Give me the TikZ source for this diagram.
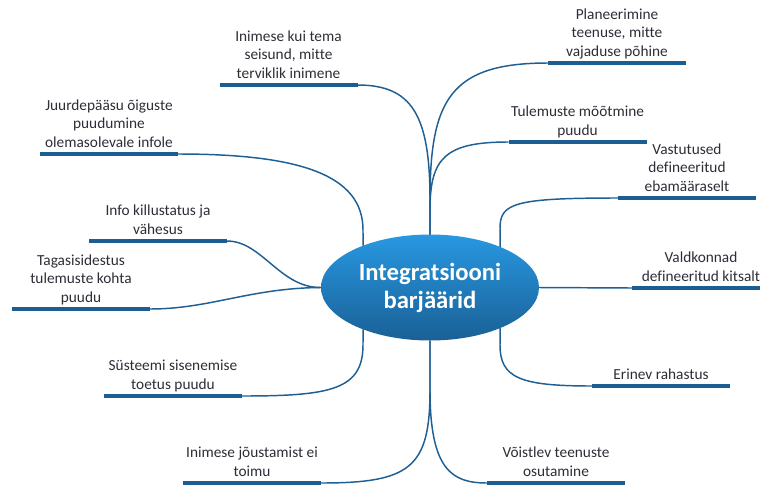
\documentclass[tikz,border=0pt]{standalone}
\usepackage{fontspec}
\setmainfont{Carlito}[Ligatures=NoCommon]
\usetikzlibrary{shapes.geometric}
\definecolor{linkc}{RGB}{31,95,148}
\definecolor{barc}{RGB}{28,94,145}
\definecolor{txtc}{RGB}{45,45,55}
\definecolor{ellTop}{RGB}{40,152,225}
\definecolor{ellBot}{RGB}{26,96,150}
\begin{document}
\begin{tikzpicture}[x=0.75pt,y=-0.75pt,
  bar/.style={fill=barc, draw=none, minimum width=103.5pt, minimum height=3pt, inner sep=0pt, outer sep=0pt},
  lbl/.style={align=center, font=\fontsize{11.5}{13.9}\selectfont, text=txtc, inner sep=0pt, anchor=south, text depth=0pt},
  link/.style={draw=linkc, line width=1.1pt},
  hub/.style={ellipse, minimum width=163.5pt, minimum height=79.5pt, inner sep=0pt, outer sep=0pt,
    top color=ellTop, bottom color=ellBot, draw=none, text=white, align=center,
    font=\bfseries\fontsize{18.5}{21}\selectfont}]
\useasboundingbox (0,0) rectangle (760,486);

% bars
\node[bar] (b1) at (288.5,85) {};
\node[bar] (b2) at (109,154) {};
\node[bar] (b3) at (158,241) {};
\node[bar] (b4) at (81,309) {};
\node[bar] (b5) at (173,396) {};
\node[bar] (b6) at (252,483) {};
\node[bar] (b7) at (617,63) {};
\node[bar] (b8) at (577.5,142) {};
\node[bar] (b9) at (687,198) {};
\node[bar] (b10) at (701,288) {};
\node[bar] (b11) at (661,386) {};
\node[bar] (b12) at (556,483) {};

% labels
\node[lbl] (t1) at ([yshift=3.4pt]b1.north) {Inimese kui tema\\seisund, mitte\\terviklik inimene};
\node[lbl] (t2) at ([yshift=3.4pt]b2.north) {Juurdepääsu õiguste\\puudumine\\olemasolevale infole};
\node[lbl] (t3) at ([yshift=3.4pt]b3.north) {Info killustatus ja\\vähesus};
\node[lbl] (t4) at ([yshift=3.4pt]b4.north) {Tagasisidestus\\tulemuste kohta\\puudu};
\node[lbl] (t5) at ([yshift=3.4pt]b5.north) {Süsteemi sisenemise\\toetus puudu};
\node[lbl] (t6) at ([yshift=3.4pt]b6.north) {Inimese jõustamist ei\\toimu};
\node[lbl] (t7) at ([yshift=3.4pt]b7.north) {Planeerimine\\teenuse, mitte\\vajaduse põhine};
\node[lbl] (t8) at ([yshift=3.4pt]b8.north) {Tulemuste mõõtmine\\puudu};
\node[lbl] (t9) at ([yshift=3.4pt]b9.north) {Vastutused\\defineeritud\\ebamääraselt};
\node[lbl] (t10) at ([yshift=3.4pt]b10.north) {Valdkonnad\\defineeritud kitsalt};
\node[lbl] (t11) at ([yshift=3.4pt]b11.north) {Erinev rahastus};
\node[lbl] (t12) at ([yshift=3.4pt]b12.north) {Võistlev teenuste\\osutamine};

% hub
\node[hub] (c) at (430,287.5) {Integratsiooni\\barjäärid};

% connectors
\draw[link] (c.north) -- (430,200) .. controls (430,115) and (412,85) .. (b1.east);
\draw[link] (c.north) -- (430,200) .. controls (430,100) and (450,63) .. (b7.west);
\draw[link] (c.north) -- (430,210) .. controls (430,158) and (445,142) .. (b8.west);
\draw[link] (c.148) -- (363,230) .. controls (363,175) and (300,154) .. (b2.east);
\draw[link] (c.30) -- (500,228) .. controls (500,203) and (515,198) .. (b9.west);
\draw[link] (c.east) -- (b10.west);
\draw[link] (c.west) .. controls (280,288) and (262,241) .. (b3.east);
\draw[link] (c.west) .. controls (250,288) and (210,309) .. (b4.east);
\draw[link] (c.212) -- (363,345) .. controls (363,390) and (330,396) .. (b5.east);
\draw[link] (c.330) -- (500,345) .. controls (500,378) and (520,386) .. (b11.west);
\draw[link] (c.south) -- (430,390) .. controls (430,468) and (410,483) .. (b6.east);
\draw[link] (c.south) -- (430,390) .. controls (430,470) and (452,483) .. (b12.west);
\end{tikzpicture}
\end{document}
